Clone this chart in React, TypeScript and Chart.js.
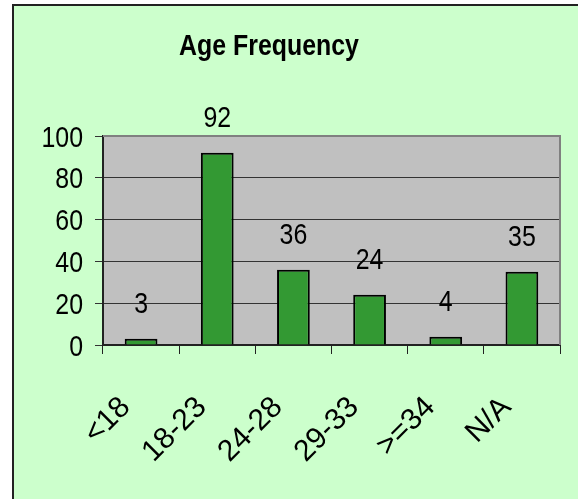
import React, { useEffect, useRef } from "react";
import { Chart, registerables } from "chart.js";

Chart.register(...registerables);

const categories = ["<18", "18-23", "24-28", "29-33", ">=34", "N/A"];
const frequencies = [3, 92, 36, 24, 4, 35];
const yMin = 0;
const yMax = 100;
const yStep = 20;
const titleText = "Age Frequency";

const FONT = "'Liberation Sans', Arial, sans-serif";
const W = 578;
const H = 499;
const SX = 0.83; // horizontal squeeze of the text (narrow look of the original)

function drawText(ctx: any, text: string, x: number, y: number, align: string, rot = 0) {
  ctx.save();
  ctx.translate(x, y);
  if (rot) ctx.rotate(rot);
  ctx.scale(SX, 1);
  ctx.textAlign = align;
  ctx.textBaseline = "alphabetic";
  ctx.fillText(text, 0, 0);
  ctx.restore();
}

const framePlugin = {
  id: "frame",
  beforeDraw(chart: any) {
    const ctx = chart.ctx;
    const ca = chart.chartArea;
    ctx.save();
    ctx.fillStyle = "#ffffff";
    ctx.fillRect(0, 0, W, H);
    ctx.fillStyle = "#CCFFCC";
    ctx.fillRect(12, 4, W - 12, H - 4);
    ctx.strokeStyle = "#222222";
    ctx.lineWidth = 2;
    ctx.beginPath();
    ctx.moveTo(13, H);
    ctx.lineTo(13, 5);
    ctx.lineTo(W, 5);
    ctx.stroke();
    ctx.fillStyle = "#C0C0C0";
    ctx.fillRect(ca.left, ca.top, ca.right - ca.left, ca.bottom - ca.top);
    ctx.fillStyle = "#000000";
    ctx.font = "bold 30px " + FONT;
    drawText(ctx, titleText, 269, 55, "center");
    ctx.restore();
  },
  afterDatasetsDraw(chart: any) {
    const ctx = chart.ctx;
    const ca = chart.chartArea;
    ctx.save();
    ctx.strokeStyle = "#808080";
    ctx.lineWidth = 2;
    ctx.beginPath();
    ctx.moveTo(ca.left, ca.top);
    ctx.lineTo(ca.right, ca.top);
    ctx.lineTo(ca.right, ca.bottom);
    ctx.stroke();

    ctx.fillStyle = "#000000";
    ctx.font = "30px " + FONT;
    // data labels
    const meta = chart.getDatasetMeta(0);
    meta.data.forEach((bar: any, i: number) => {
      drawText(ctx, String(chart.data.datasets[0].data[i]), bar.x, bar.y - 26, "center");
    });
    // y tick labels
    const ys = chart.scales.y;
    ys.ticks.forEach((t: any) => {
      drawText(ctx, String(t.value), ca.left - 20, ys.getPixelForValue(t.value) + 10.5, "right");
    });
    // x tick labels, rotated 45 degrees
    const xs = chart.scales.x;
    chart.data.labels.forEach((lab: string, i: number) => {
      const px = xs.getPixelForValue(i) - 17;
      const py = ca.bottom + 56;
      ctx.save();
      ctx.translate(px, py);
      ctx.rotate(-Math.PI / 4);
      ctx.textAlign = "right";
      ctx.textBaseline = "alphabetic";
      ctx.fillText(lab, 0, 10.5);
      ctx.restore();
    });
    ctx.restore();
  },
};

export default function App() {
  const ref = useRef<HTMLCanvasElement | null>(null);
  useEffect(() => {
    if (!ref.current) return;
    const chart = new Chart(ref.current, {
      type: "bar",
      data: {
        labels: categories,
        datasets: [
          {
            data: frequencies,
            backgroundColor: "#339933",
            borderColor: "#000000",
            borderWidth: 2,
            categoryPercentage: 1,
            barPercentage: 0.43,
          },
        ],
      },
      options: {
        responsive: false,
        animation: false,
        events: [],
        layout: { padding: { top: 136, right: 18, left: 0, bottom: 0 } },
        plugins: {
          legend: { display: false },
          title: { display: false },
          tooltip: { enabled: false },
        },
        scales: {
          x: {
            afterFit: (s: any) => {
              s.height = H - 345;
            },
            grid: {
              offset: true,
              drawOnChartArea: false,
              drawTicks: true,
              tickLength: 9,
              color: "#222222",
              lineWidth: 1,
            },
            border: { color: "#222222", width: 2 },
            ticks: { display: false, autoSkip: false },
          },
          y: {
            min: yMin,
            max: yMax,
            afterFit: (s: any) => {
              s.width = 103;
            },
            grid: {
              color: "#333333",
              lineWidth: 1,
              tickLength: 8,
            },
            border: { color: "#222222", width: 2 },
            ticks: { display: false, stepSize: yStep },
          },
        },
      },
      plugins: [framePlugin],
    });
    return () => chart.destroy();
  }, []);
  return (
    <div style={{ position: "fixed", left: 0, top: 0, width: W, height: H, background: "#fff" }}>
      <canvas ref={ref} width={W} height={H} style={{ display: "block", width: W, height: H }} />
    </div>
  );
}
